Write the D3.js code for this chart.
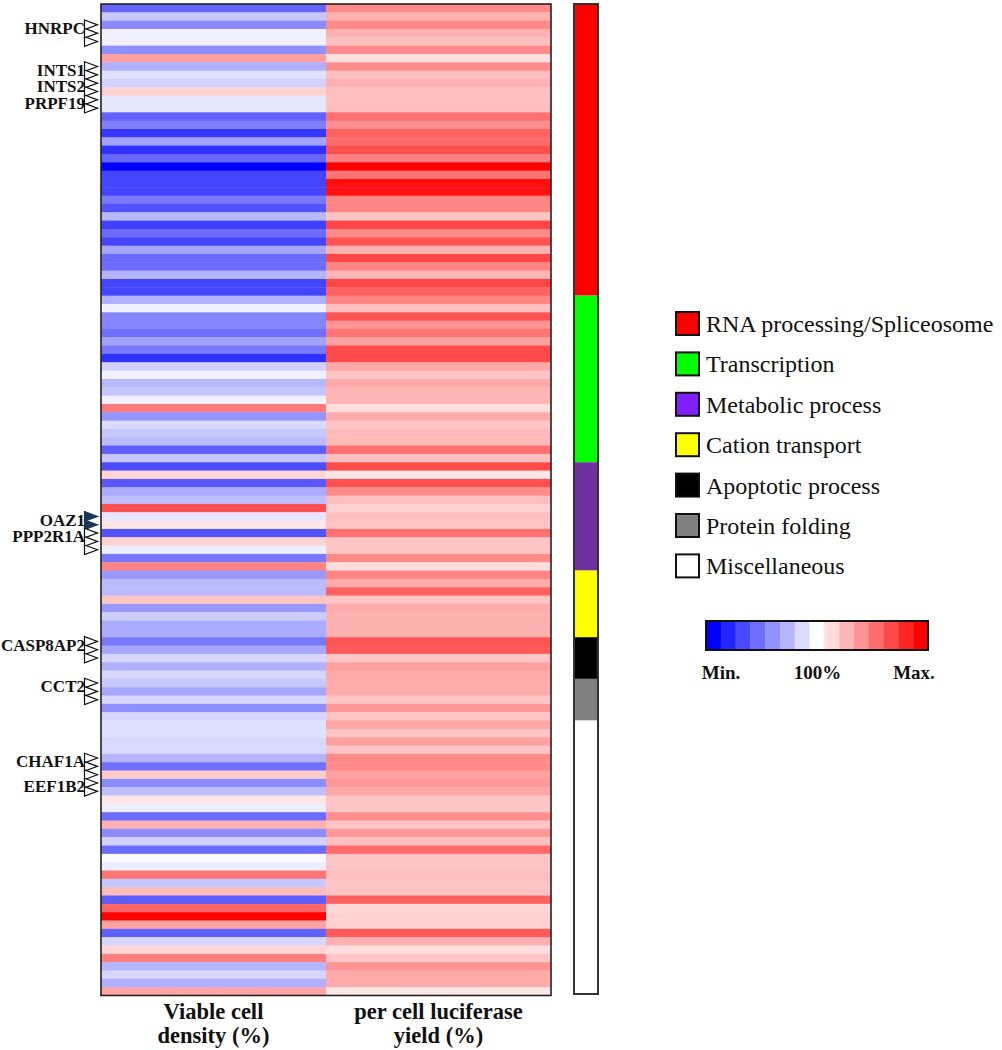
<!DOCTYPE html>
<html lang="en">
  <head>
    <meta charset="UTF-8" />
    <title>siRNA screen heatmap</title>
    <style>
      body {
        margin: 0;
        background: #fff;
      }
      svg {
        display: block;
        font-family: "Liberation Serif", "Times New Roman", serif;
      }
    </style>
  </head>
  <body>
    <div id="chart"></div>
    <script src="https://cdnjs.cloudflare.com/ajax/libs/d3/7.8.5/d3.min.js"></script>
    <script>
      // values in % (100 = control), one entry per siRNA row, top to bottom
      var viable = [
        40, 78, 55, 94, 94, 56, 137, 69, 88, 82,
        118, 90, 90, 38, 50, 21, 63, 19, 40, 0,
        27, 27, 27, 48, 33, 72, 25, 42, 27, 65,
        42, 42, 71, 27, 27, 69, 94, 52, 52, 43,
        63, 47, 19, 82, 94, 72, 77, 94, 152, 58,
        85, 78, 73, 37, 77, 30, 116, 35, 67, 75,
        169, 90, 110, 33, 118, 93, 47, 148, 60, 73,
        73, 123, 60, 80, 67, 67, 47, 65, 84, 69,
        84, 78, 65, 84, 56, 84, 88, 88, 85, 85,
        71, 44, 120, 55, 75, 110, 93, 42, 131, 55,
        82, 42, 98, 93, 154, 78, 127, 36, 160, 200,
        137, 38, 84, 116, 150, 71, 84, 69, 135
      ];
      var luciferase = [
        146, 131, 146, 131, 125, 145, 112, 145, 125, 131,
        125, 125, 125, 156, 144, 162, 158, 169, 150, 200,
        154, 194, 194, 148, 148, 123, 173, 146, 167, 131,
        173, 148, 129, 173, 162, 148, 125, 167, 142, 154,
        137, 171, 171, 135, 123, 134, 129, 129, 113, 133,
        123, 127, 127, 156, 125, 171, 110, 169, 146, 125,
        118, 125, 123, 156, 123, 123, 146, 113, 148, 133,
        162, 123, 133, 131, 131, 131, 167, 165, 123, 137,
        133, 133, 133, 123, 140, 123, 135, 123, 137, 123,
        146, 146, 137, 140, 135, 123, 123, 144, 123, 140,
        125, 158, 123, 123, 125, 123, 123, 162, 116, 118,
        118, 165, 131, 113, 123, 142, 133, 133, 110
      ];
      var columns = ["Viable cell density (%)", "per cell luciferase yield (%)"];
      var columnLines = [
        ["Viable cell", "density (%)"],
        ["per cell luciferase", "yield (%)"]
      ];

      var geneNames = ["HNRPC", "INTS1", "INTS2", "PRPF19", "OAZ1", "PPP2R1A", "CASP8AP2", "CCT2", "CHAF1A", "EEF1B2"];
      var geneRows = [[2, 3, 4], [7, 8], [9, 10], [11, 12], [61, 62], [63, 64, 65], [76, 77, 78], [81, 82, 83], [90, 91, 92], [93, 94]];
      var filledGenes = ["OAZ1"];

      var catNames = [
        "RNA processing/Spliceosome",
        "Transcription",
        "Metabolic process",
        "Cation transport",
        "Apoptotic process",
        "Protein folding",
        "Miscellaneous"
      ];
      var catCounts = [35, 20, 13, 8, 5, 5, 33];
      var catColors = ["#ff0000", "#00ff00", "#7030a0", "#ffff00", "#000000", "#808080", "#ffffff"];
      var swatchColors = ["#ff0000", "#00ff00", "#8020ff", "#ffff00", "#000000", "#808080", "#ffffff"];

      var scaleLabels = ["Min.", "100%", "Max."];
      var scaleSteps = 15;

      var width = 1002,
        height = 1050;

      var svg = d3
        .select("#chart")
        .append("svg")
        .attr("width", width)
        .attr("height", height);

      var nRows = viable.length;
      var rowIdx = d3.range(nRows);

      var x = d3.scaleBand().domain(columns).range([101, 551]);
      var y = d3.scaleBand().domain(rowIdx).range([4, 995.5]);

      var color = d3
        .scaleLinear()
        .domain([0, 100, 200])
        .range(["#0000ff", "#ffffff", "#ff0000"])
        .clamp(true);

      var cells = [];
      rowIdx.forEach(function (i) {
        cells.push({ col: columns[0], row: i, v: viable[i] });
        cells.push({ col: columns[1], row: i, v: luciferase[i] });
      });

      //heatmap cells
      svg
        .append("g")
        .selectAll("rect")
        .data(cells)
        .enter()
        .append("rect")
        .attr("x", function (d) { return x(d.col); })
        .attr("y", function (d) { return y(d.row); })
        .attr("width", x.bandwidth())
        .attr("height", y.bandwidth() + 0.4)
        .attr("fill", function (d) { return color(d.v); });

      svg
        .append("rect")
        .attr("x", x.range()[0])
        .attr("y", y.range()[0])
        .attr("width", x.range()[1] - x.range()[0])
        .attr("height", y.range()[1] - y.range()[0])
        .attr("fill", "none")
        .attr("stroke", "#222")
        .attr("stroke-width", 1.6);

      //column labels under the map
      var colLab = svg
        .append("g")
        .selectAll("text")
        .data(columns)
        .enter()
        .append("text")
        .attr("text-anchor", "middle")
        .attr("font-weight", "bold")
        .attr("font-size", "22.5px")
        .attr("fill", "#111");
      colLab
        .selectAll("tspan")
        .data(function (d, i) { return columnLines[i].map(function (t) { return { t: t, c: d }; }); })
        .enter()
        .append("tspan")
        .attr("x", function (d) { return x(d.c) + x.bandwidth() / 2; })
        .attr("y", function (d, i) { return 1019 + i * 24; })
        .text(function (d) { return d.t; });

      //gene markers
      var yc = function (r) { return y(r) + y.bandwidth() / 2; };
      var genes = svg
        .append("g")
        .selectAll("g")
        .data(geneNames)
        .enter()
        .append("g");

      genes
        .selectAll("path")
        .data(function (d, i) {
          return geneRows[i].map(function (r) { return { r: r, filled: filledGenes.indexOf(d) >= 0 }; });
        })
        .enter()
        .append("path")
        .attr("d", function (d) {
          var c = yc(d.r);
          return "M84.5," + (c - 4.8) + "L97.5," + c + "L84.5," + (c + 4.8) + "Z";
        })
        .attr("fill", function (d) { return d.filled ? "#1d3557" : "#fff"; })
        .attr("stroke", function (d) { return d.filled ? "#1d3557" : "#111"; })
        .attr("stroke-width", 1.2);

      genes
        .append("text")
        .attr("x", 85)
        .attr("y", function (d, i) { return y(geneRows[i][0] + 1) - 1; })
        .attr("dy", "0.35em")
        .attr("text-anchor", "end")
        .attr("font-weight", "bold")
        .attr("font-size", "17px")
        .attr("fill", "#111")
        .text(function (d) { return d; });

      //category bar
      var starts = [0];
      catCounts.forEach(function (c, i) { starts.push(starts[i] + c); });
      var bar = svg.append("g");
      bar
        .selectAll("rect")
        .data(catNames)
        .enter()
        .append("rect")
        .attr("x", 574)
        .attr("y", function (d, i) { return y(starts[i]); })
        .attr("width", 24)
        .attr("height", function (d, i) { return catCounts[i] * y.step(); })
        .attr("fill", function (d, i) { return catColors[i]; });
      bar
        .append("rect")
        .attr("x", 574)
        .attr("y", y.range()[0])
        .attr("width", 24)
        .attr("height", y.range()[1] - y.range()[0] - 1.5)
        .attr("fill", "none")
        .attr("stroke", "#333")
        .attr("stroke-width", 2);

      //category legend
      var ly = d3.scalePoint().domain(catNames).range([323.5, 565.9]);
      var leg = svg
        .append("g")
        .selectAll("g")
        .data(catNames)
        .enter()
        .append("g")
        .attr("transform", function (d) { return "translate(675," + ly(d) + ")"; });
      leg
        .append("rect")
        .attr("x", 1)
        .attr("y", -11.5)
        .attr("width", 23)
        .attr("height", 23)
        .attr("fill", function (d, i) { return swatchColors[i]; })
        .attr("stroke", "#111")
        .attr("stroke-width", 2);
      leg
        .append("text")
        .attr("x", 31)
        .attr("dy", "0.35em")
        .attr("font-size", "24px")
        .attr("fill", "#111")
        .text(function (d) { return d; });

      //colour scale legend
      var sx = d3.scaleBand().domain(d3.range(scaleSteps)).range([706, 928]);
      var stepVal = d3.scaleLinear().domain([0, scaleSteps - 1]).range([color.domain()[0], color.domain()[2]]);
      svg
        .append("g")
        .selectAll("rect")
        .data(d3.range(scaleSteps))
        .enter()
        .append("rect")
        .attr("x", function (d) { return sx(d); })
        .attr("y", 621)
        .attr("width", sx.bandwidth() + 0.3)
        .attr("height", 29)
        .attr("fill", function (d) { return color(stepVal(d)); });
      svg
        .append("rect")
        .attr("x", 706)
        .attr("y", 621)
        .attr("width", 222)
        .attr("height", 29)
        .attr("fill", "none")
        .attr("stroke", "#111")
        .attr("stroke-width", 2);

      var lx = d3.scalePoint().domain(scaleLabels).range([721, 914]);
      svg
        .append("g")
        .selectAll("text")
        .data(scaleLabels)
        .enter()
        .append("text")
        .attr("x", function (d) { return lx(d); })
        .attr("y", 679)
        .attr("text-anchor", "middle")
        .attr("font-weight", "bold")
        .attr("font-size", "19px")
        .attr("fill", "#111")
        .text(function (d) { return d; });
    </script>
  </body>
</html>
